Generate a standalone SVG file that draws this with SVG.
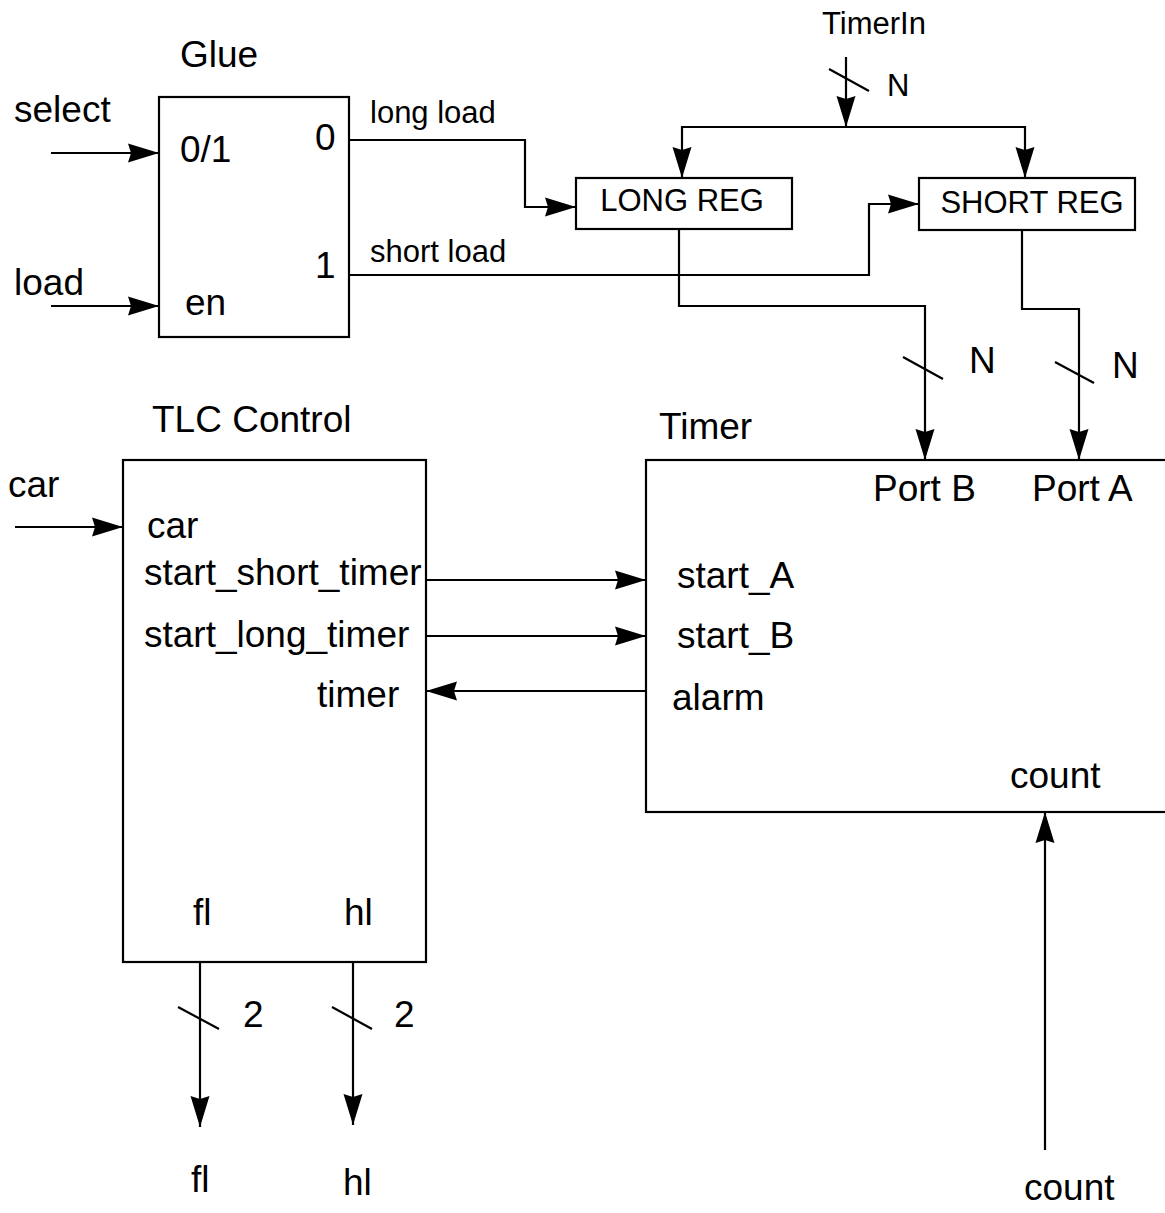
<svg xmlns="http://www.w3.org/2000/svg" width="1165" height="1213" viewBox="0 0 1165 1213">
<style>
text{font-family:"Liberation Sans",Arial,Helvetica,sans-serif;fill:#000}
.b{font-size:37px}
.s{font-size:31px}
.box{fill:#fff;stroke:#000;stroke-width:2.2}
.w{fill:none;stroke:#000;stroke-width:2.2}
.a{marker-end:url(#arr)}
.mid{text-anchor:middle}
</style>
<defs>
<marker id="arr" markerUnits="userSpaceOnUse" markerWidth="34" markerHeight="22" viewBox="-32 -11 34 22" refX="0" refY="0" orient="auto">
<path d="M0,0 L-31,-9.5 L-28,0 L-31,9.5 Z" fill="#000"/>
</marker>
</defs>
<rect width="1165" height="1213" fill="#fff"/>

<g id="glue">
<rect class="box" x="159" y="97" width="190" height="240"/>
<text class="b" x="180" y="67">Glue</text>
<text class="b" x="180" y="162">0/1</text>
<text class="b" x="185" y="315">en</text>
<text class="b" x="315" y="150">0</text>
<text class="b" x="315" y="278">1</text>
</g>

<g id="long_reg">
<rect class="box" x="576" y="178" width="216" height="51"/>
<text class="s mid" x="682" y="211">LONG REG</text>
</g>

<g id="short_reg">
<rect class="box" x="919" y="178" width="216" height="52"/>
<text class="s mid" x="1032" y="213">SHORT REG</text>
</g>

<g id="tlc_control">
<rect class="box" x="123" y="460" width="303" height="502"/>
<text class="b" x="152" y="432">TLC Control</text>
<text class="b" x="147" y="538">car</text>
<text class="b" x="144" y="585">start_short_timer</text>
<text class="b" x="144" y="647">start_long_timer</text>
<text class="b" x="317" y="707">timer</text>
<text class="b" x="193" y="925">fl</text>
<text class="b" x="344" y="925">hl</text>
</g>

<g id="timer">
<rect class="box" x="646" y="460" width="530" height="352"/>
<text class="b" x="659" y="439">Timer</text>
<text class="b" x="873" y="501">Port B</text>
<text class="b" x="1032" y="501">Port A</text>
<text class="b" x="677" y="588">start_A</text>
<text class="b" x="677" y="648">start_B</text>
<text class="b" x="672" y="710">alarm</text>
<text class="b" x="1010" y="788">count</text>
</g>

<g id="connectors">
<path class="w a" d="M51,153 H159"/>
<path class="w a" d="M51,306 H159"/>
<path class="w a" d="M349,140 H525 V207 H576"/>
<path class="w a" d="M349,275 H869 V204 H919"/>
<path class="w a" d="M846,57 V127"/>
<path class="w a" d="M846,127 H682 V178"/>
<path class="w a" d="M846,127 H1025 V178"/>
<path class="w a" d="M679,229 V306 H925 V460"/>
<path class="w a" d="M1022,229 V309 H1079 V460"/>
<path class="w a" d="M15,527 H123"/>
<path class="w a" d="M426,580 H646"/>
<path class="w a" d="M426,636 H646"/>
<path class="w a" d="M646,691 H426"/>
<path class="w a" d="M200,962 V1127"/>
<path class="w a" d="M353,962 V1125"/>
<path class="w a" d="M1045,1150 V812"/>
<path class="w" d="M829,69 L869,91"/>
<path class="w" d="M903,357 L943,379"/>
<path class="w" d="M1055,362 L1094,383"/>
<path class="w" d="M178,1007 L219,1029"/>
<path class="w" d="M332,1007 L372,1029"/>
</g>

<g id="labels">
<text class="b" x="14" y="122">select</text>
<text class="b" x="14" y="295">load</text>
<text class="b" x="8" y="497">car</text>
<text class="s" x="370" y="123">long load</text>
<text class="s" x="370" y="262">short load</text>
<text class="s mid" x="874" y="34">TimerIn</text>
<text class="s" x="887" y="96">N</text>
<text class="b" x="969" y="373">N</text>
<text class="b" x="1112" y="378">N</text>
<text class="b" x="243" y="1027">2</text>
<text class="b" x="394" y="1027">2</text>
<text class="b" x="191" y="1192">fl</text>
<text class="b" x="343" y="1195">hl</text>
<text class="b" x="1024" y="1200">count</text>
</g>
</svg>
